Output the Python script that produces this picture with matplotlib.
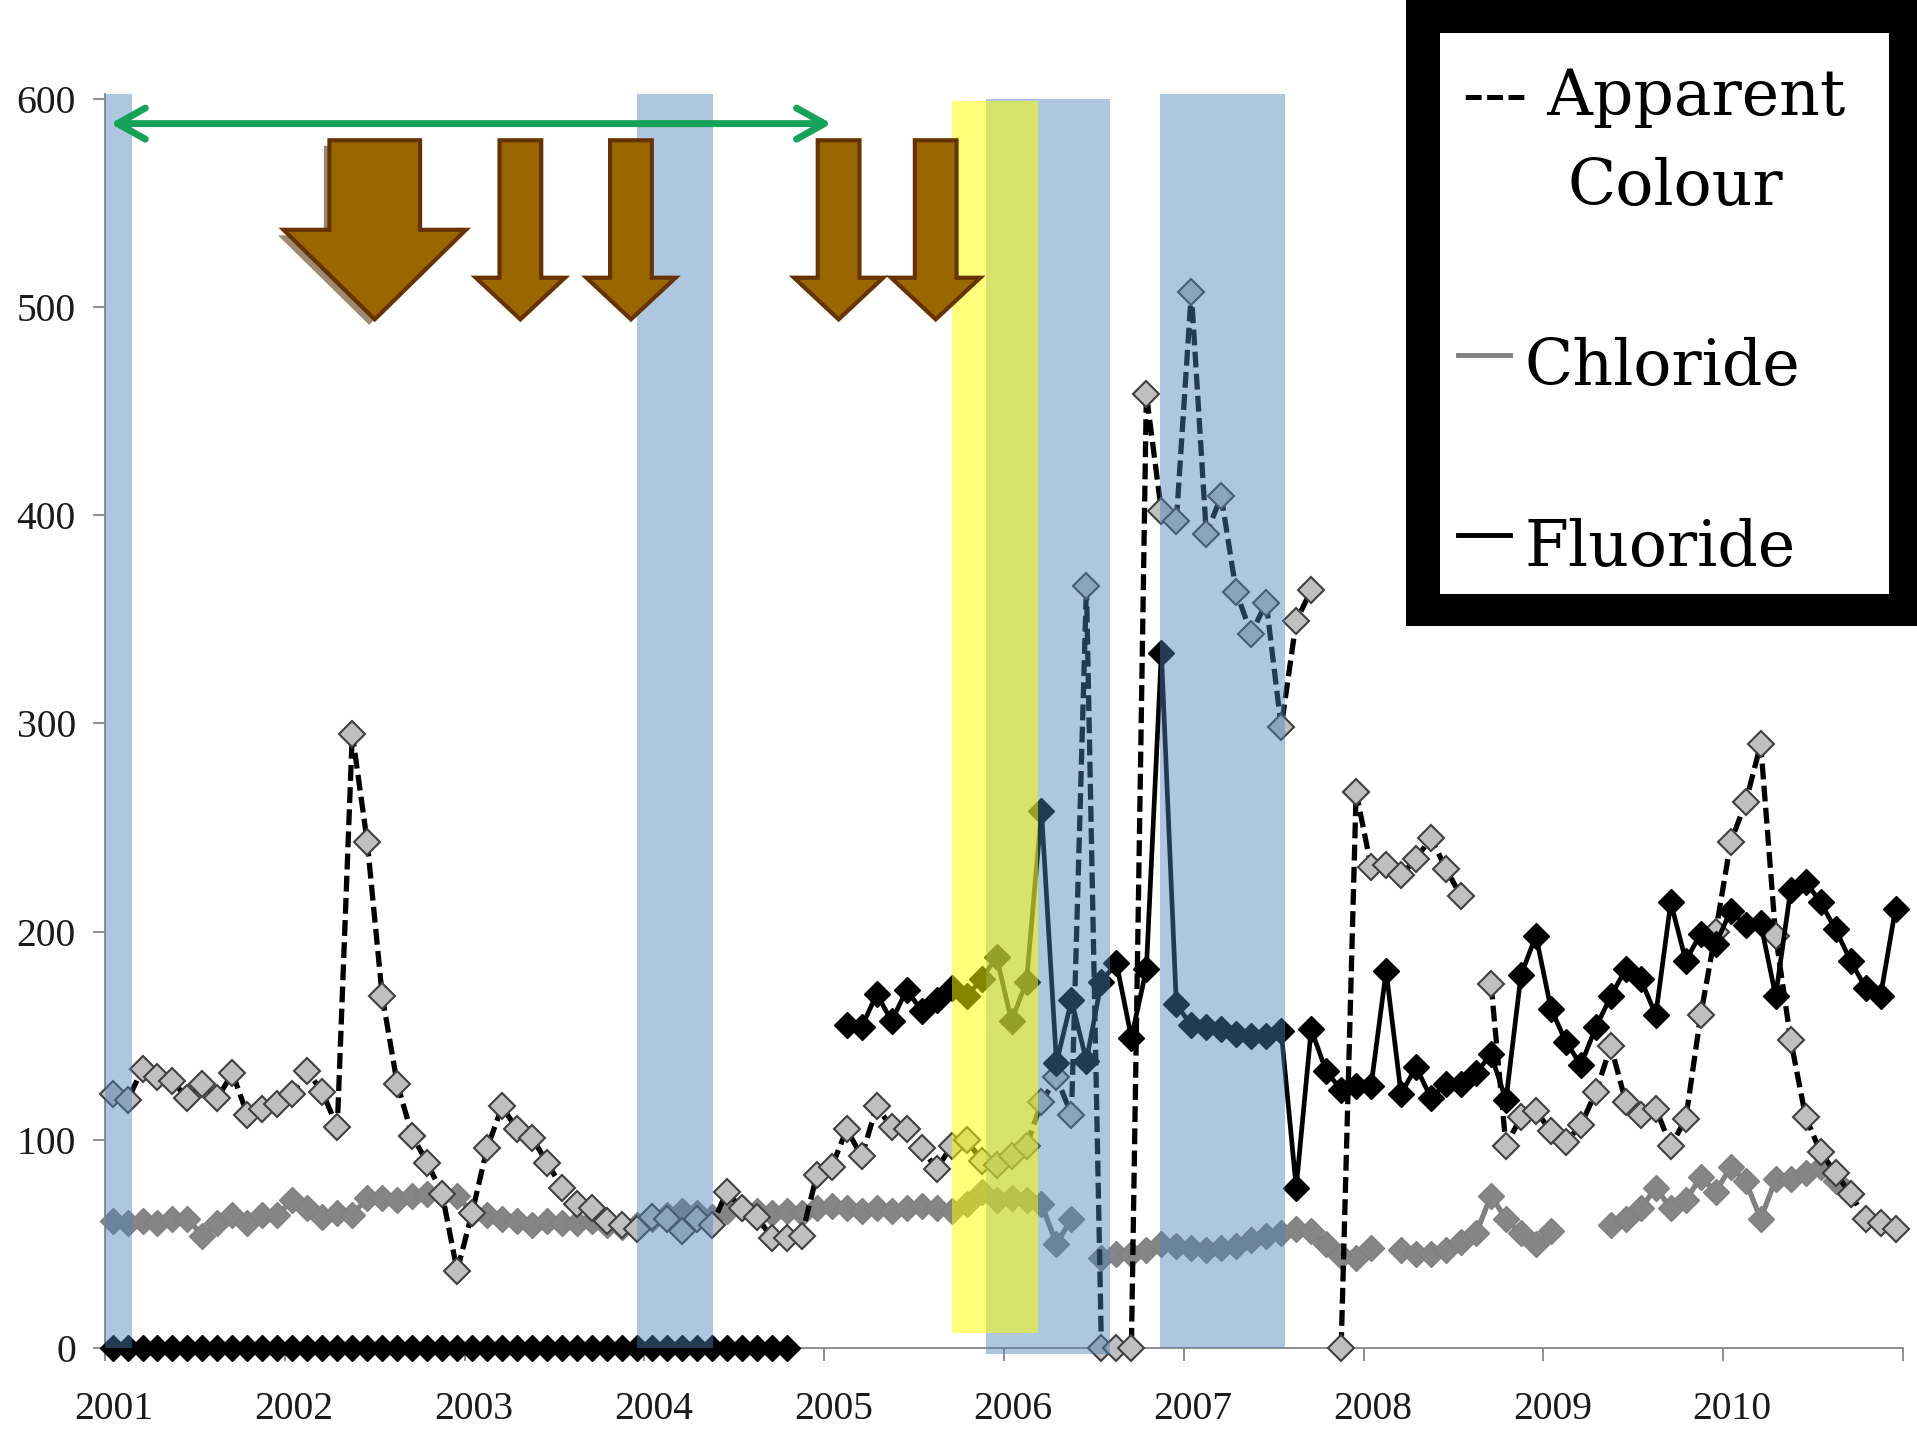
# Water quality time series (2001-2010): apparent colour, chloride and fluoride
# with shaded event periods and annotation arrows, in the style of an Excel chart.

import numpy as np
import matplotlib.pyplot as plt
import matplotlib.transforms as mtransforms
from matplotlib.patches import Polygon, Rectangle
from matplotlib.lines import Line2D
import matplotlib.patheffects as pe

# -----------------------------------------------------------------------------
# DATA: one value per month, Jan 2001 .. Dec 2010 (None = no sample)
# -----------------------------------------------------------------------------
years = list(range(2001, 2011))

apparent_colour = [
    122, 119, 134, 130, 128, 120, 127, 120, 132, 112, 115, 117,   # 2001
    122, 133, 123, 106, 295, 243, 169, 127, 102, 89, 74, 37,      # 2002
    65, 96, 116, 105, 101, 89, 77, 69, 67, 61, 59, 57,            # 2003
    63, 62, 56, 62, 59, 75, 67, 63, 53, 53, 54, 83,               # 2004
    87, 105, 92, 116, 106, 105, 96, 86, 97, 100, 90, 88,          # 2005
    92, 97, 118, 130, 112, 366, 0, 0, 0, 458, 402, 397,           # 2006
    507, 391, 409, 363, 343, 358, 298, 349, 364, None, 0, 267,    # 2007
    231, 232, 227, 235, 245, 230, 217, None, 175, 97, 111, 114,   # 2008
    104, 99, 107, 123, 145, 118, 112, 115, 97, 110, 160, 200,     # 2009
    243, 262, 290, 198, 148, 111, 94, 84, 74, 62, 60, 57,         # 2010
]

chloride = [
    61, 60, 61, 60, 62, 62, 54, 60, 64, 60, 64, 64,
    71, 67, 63, 65, 64, 72, 72, 71, 73, 74, 74, 73,
    65, 64, 62, 61, 59, 61, 60, 60, 61, 59, 58, 59,
    62, 64, 66, 65, 63, 66, 67, 66, 65, 66, 65, 67,
    68, 67, 66, 67, 66, 67, 68, 67, 66, 69, 75, 71,
    72, 71, 69, 50, 62, None, 43, 45, 45, 47, 50, 49,
    48, 47, 48, 49, 52, 54, 55, 57, 56, 50, 44, 43,
    48, None, 47, 45, 45, 47, 51, 55, 73, 62, 55, 50,
    56, None, None, None, 59, 62, 67, 77, 67, 71, 82, 75,
    87, 80, 62, 81, 81, 84, 87, 80, 74, None, None, None,
]

fluoride = [0] * 46 + [
    None, None, None, 155, 154, 170, 157, 172, 162, 167, 173, 169,
    177, 188, 157, 176, 258, 137, 167, 138, 176, 185, 149, 182,
    334, 165, 155, 154, 153, 151, 150, 150, 152, 77, 153, 133,
    124, 126, 126, 181, 122, 135, 120, 127, 127, 132, 141, 119,
    179, 198, 163, 147, 136, 154, 169, 182, 177, 160, 214, 186,
    199, 194, 210, 203, 204, 169, 220, 224, 214, 201, 186, 173,
    169, 211,
]

# shaded periods (start year, end year, bottom, top)
blue_periods = [(2001.0, 2001.15, 0, 602), (2003.96, 2004.38, 0, 602),
                (2005.90, 2006.59, -3, 600), (2006.87, 2007.565, 0, 602)]
yellow_periods = [(2005.71, 2006.19, 7, 599)]

# brown block arrows: (centre year, shaft half width, head half width, head base, tip)
block_arrows = [(2002.50, 0.252, 0.507, 537, 494),
                (2003.31, 0.116, 0.248, 514, 494),
                (2003.925, 0.116, 0.248, 514, 494),
                (2005.08, 0.116, 0.248, 514, 494),
                (2005.62, 0.116, 0.248, 514, 494)]
arrow_top = 580

# green double arrow period
green_span = (2001.03, 2005.04, 588)

# -----------------------------------------------------------------------------
# Convert to arrays: decimal year at the middle of each month
# -----------------------------------------------------------------------------
months = np.arange(120)
x = 2001 + (months + 0.5) / 12
apparent_colour = np.array(apparent_colour, dtype=float)
chloride = np.array(chloride, dtype=float)
fluoride = np.array(fluoride, dtype=float)

# -----------------------------------------------------------------------------
# Figure and axes
# -----------------------------------------------------------------------------
fig = plt.figure(figsize=(19.17, 14.4), dpi=100)
ax = fig.add_axes([0.0548, 0.0639, 0.9379, 0.8705])

# markers at zero sit on the axis line, so no clipping
ax.plot(x, chloride, color="#808080", lw=3.8, marker="D", ms=13.5,
        mfc="#858585", mec="#808080", zorder=2, clip_on=False)
ax.plot(x, apparent_colour, color="black", lw=3.8, ls=(0, (3.0, 1.2)),
        marker="D", ms=13.5, mfc="#BFBFBF", mec="#3F3F3F", mew=1.5,
        zorder=3, clip_on=False)
ax.plot(x, fluoride, color="black", lw=3.4, marker="D", ms=13.5,
        mfc="black", mec="black", zorder=4, clip_on=False)

# shaded periods drawn on top, semi transparent
for x0, x1, y0, y1 in blue_periods:
    ax.fill_between([x0, x1], y0, y1, color="#4F81BD", alpha=0.45,
                    lw=0, zorder=5, clip_on=False)
for x0, x1, y0, y1 in yellow_periods:
    ax.fill_between([x0, x1], y0, y1, color="#FFFF00", alpha=0.52,
                    lw=0, zorder=6, clip_on=False)

# green double-headed arrow
ax.annotate("", xy=(green_span[1], green_span[2]), xytext=(green_span[0], green_span[2]),
            arrowprops=dict(arrowstyle="<->,head_length=0.5,head_width=0.28",
                            color="#16A258", lw=5, mutation_scale=40,
                            shrinkA=0, shrinkB=0), zorder=7)

# brown block arrows
for i, (cx, sw, hw, base, tip) in enumerate(block_arrows):
    pts = [(cx - sw, arrow_top), (cx + sw, arrow_top), (cx + sw, base),
           (cx + hw, base), (cx, tip), (cx - hw, base), (cx - sw, base)]
    arr = Polygon(pts, closed=True, facecolor="#996600", edgecolor="#663300",
                  lw=3, zorder=8, clip_on=False)
    if i == 0:
        arr.set_path_effects([pe.SimplePatchShadow(offset=(-4, -4),
                                                   shadow_rgbFace="#5A3A10", alpha=0.6),
                              pe.Normal()])
    ax.add_patch(arr)

# -----------------------------------------------------------------------------
# Axes styling
# -----------------------------------------------------------------------------
ax.set_xlim(2001, 2011)
ax.set_ylim(0, 602)
ax.set_xticks(range(2001, 2012))
ax.set_xticklabels([str(y) for y in years] + [""])
ax.set_yticks(range(0, 601, 100))

for side in ["top", "right"]:
    ax.spines[side].set_visible(False)
for side in ["left", "bottom"]:
    ax.spines[side].set_color("#868686")
    ax.spines[side].set_linewidth(1.3)

ax.tick_params(axis="both", direction="out", length=9, width=1.3,
               color="#868686", labelsize=28.5, labelcolor="#1a1a1a")
ax.tick_params(axis="x", pad=22)
ax.tick_params(axis="y", pad=12)
for lab in ax.get_xticklabels() + ax.get_yticklabels():
    lab.set_fontfamily("Liberation Serif")

# year labels sit a little right of their tick marks
shift = mtransforms.ScaledTranslation(0.09, 0, fig.dpi_scale_trans)
for lab in ax.get_xticklabels():
    lab.set_transform(lab.get_transform() + shift)

# -----------------------------------------------------------------------------
# Hand-made legend box (thick black frame, top right)
# -----------------------------------------------------------------------------
fig.add_artist(Rectangle((0.7334, 0.5653), 0.2666, 0.4347, transform=fig.transFigure,
                         facecolor="black", edgecolor="none", zorder=10))
fig.add_artist(Rectangle((0.7512, 0.5875), 0.2342, 0.3896, transform=fig.transFigure,
                         facecolor="white", edgecolor="none", zorder=11))

leg_font = dict(family="DejaVu Serif", size=45.5, color="black", zorder=12,
                va="baseline")
fig.text(0.7632, 0.9201, "--- Apparent", ha="left", **leg_font)
fig.text(0.8738, 0.8576, "Colour", ha="center", **leg_font)
fig.text(0.7950, 0.7326, "Chloride", ha="left", **leg_font)
fig.text(0.7950, 0.6069, "Fluoride", ha="left", **leg_font)
fig.add_artist(Line2D([0.7606, 0.7877], [0.7535, 0.7535], transform=fig.transFigure,
                      color="#808080", lw=3.5, zorder=12))
fig.add_artist(Line2D([0.7606, 0.7877], [0.6285, 0.6285], transform=fig.transFigure,
                      color="black", lw=3.5, zorder=12))

plt.savefig("out.png", dpi=100)
